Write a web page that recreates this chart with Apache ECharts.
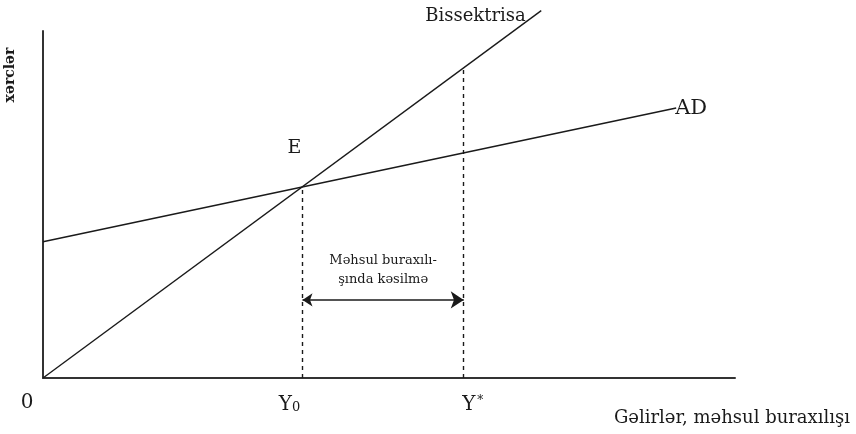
<!DOCTYPE html>
<html>
<head>
<meta charset="utf-8">
<script src="https://cdn.jsdelivr.net/npm/echarts@6/dist/echarts.min.js"></script>
<style>
  html, body { margin: 0; padding: 0; background: #fff; }
  #chart { width: 856px; height: 434px; }
</style>
</head>
<body>
<div id="chart"></div>
<script>
// Keynesian cross: income on x, expenditure on y
const bisector = [[0, 0], [72, 72]];               // 45° line, Y = E
const aggregateDemand = [[0, 26.7], [91.5, 52.9]]; // AD schedule
const equilibrium = [37.5, 37.5];                  // point E, income Y0
const potentialIncome = 60.8;                      // Y*
const gapLevel = 15.3;                             // height of the gap arrow
const gapText = 'Məhsul buraxılı-\nşında kəsilmə';

const SERIF = '"DejaVu Serif", "Liberation Serif", serif';
const INK = '#1a1a1a';

const chart = echarts.init(document.getElementById('chart'));

const textStyle = (size, extra) => Object.assign(
  { fontFamily: SERIF, fontSize: size, color: INK }, extra || {}
);

chart.setOption({
  animation: false,
  backgroundColor: '#fff',
  grid: { left: 43, right: 121, top: 31, bottom: 56 },
  xAxis: {
    type: 'value', min: 0, max: 100,
    splitLine: { show: false },
    axisTick: { show: false },
    axisLabel: { show: false },
    axisLine: { lineStyle: { color: '#333', width: 2 } }
  },
  yAxis: {
    type: 'value', min: 0, max: 68,
    splitLine: { show: false },
    axisTick: { show: false },
    axisLabel: { show: false },
    axisLine: { lineStyle: { color: '#333', width: 2 } }
  },
  graphic: [
    {
      type: 'text', x: 10, y: 75, rotation: Math.PI / 2,
      style: { text: 'xərclər', font: 'bold 14px ' + SERIF, fill: INK,
               textAlign: 'center', textVerticalAlign: 'middle' }
    },
    {
      type: 'text', right: 6, top: 409,
      style: { text: 'Gəlirlər, məhsul buraxılışı', font: '18px ' + SERIF, fill: INK }
    }
  ],
  series: [
    {
      type: 'line', data: bisector, symbol: 'none', clip: false,
      lineStyle: { color: INK, width: 1.4 },
      endLabel: Object.assign({ show: true, formatter: 'Bissektrisa', offset: [-124, 6] }, textStyle(18))
    },
    {
      type: 'line', data: aggregateDemand, symbol: 'none', clip: false,
      lineStyle: { color: INK, width: 1.4 },
      endLabel: Object.assign({ show: true, formatter: 'AD', offset: [-9, 0] }, textStyle(21))
    },
    {
      // dashed drop lines to the income axis
      type: 'lines', coordinateSystem: 'cartesian2d',
      lineStyle: { color: INK, width: 1.4, type: [4, 4], opacity: 1 },
      data: [
        { coords: [[equilibrium[0], 0], equilibrium] },
        { coords: [[potentialIncome, 0], [potentialIncome, potentialIncome]] }
      ]
    },
    {
      // output gap arrow
      type: 'lines', coordinateSystem: 'cartesian2d',
      symbol: ['arrow', 'arrow'], symbolSize: [10, 13],
      lineStyle: { color: INK, width: 1.6, opacity: 1 },
      data: [{ coords: [[equilibrium[0], gapLevel], [potentialIncome, gapLevel]] }]
    },
    {
      type: 'scatter', symbolSize: 0, silent: true,
      itemStyle: { opacity: 1 },
      data: [
        {
          value: equilibrium,
          label: Object.assign({ show: true, formatter: 'E', position: 'top', offset: [-8, -24] }, textStyle(19))
        },
        {
          value: [(equilibrium[0] + potentialIncome) / 2, gapLevel],
          label: Object.assign({ show: true, formatter: gapText, position: 'top', offset: [0, -6],
                                 lineHeight: 19, align: 'center' }, textStyle(13))
        },
        {
          value: [0, 0],
          label: Object.assign({ show: true, formatter: '0', position: 'bottom', offset: [-16, 10] }, textStyle(20))
        },
        {
          value: [equilibrium[0], 0],
          label: {
            show: true, position: 'bottom', offset: [-13, 12],
            formatter: '{y|Y}{s|0}',
            rich: {
              y: textStyle(20),
              s: textStyle(13, { padding: [6, 0, 0, 0] })
            }
          }
        },
        {
          value: [potentialIncome, 0],
          label: {
            show: true, position: 'bottom', offset: [9, 12],
            formatter: '{y|Y}{sup|*}',
            rich: {
              y: textStyle(20),
              sup: textStyle(12, { padding: [0, 0, 8, 2] })
            }
          }
        }
      ]
    }
  ]
});
</script>
</body>
</html>
